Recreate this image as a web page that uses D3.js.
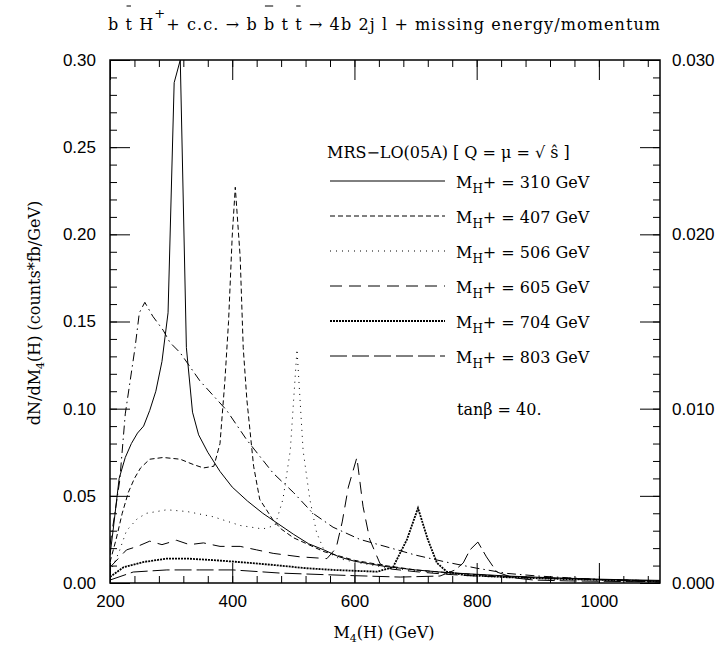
<!DOCTYPE html>
<meta charset="utf-8">
<style>
  body { margin: 0; background: #fff; }
  .serif { font-family: "DejaVu Serif", serif; font-size: 16px; }
</style>
<svg width="718" height="647"></svg>
<script src="https://d3js.org/d3.v7.min.js"></script>
<script>
// tick values
var xMajor = [200, 400, 600, 800, 1000];
var xMinor = d3.range(200, 1101, 40);
var yLeftMajor = [0, 0.05, 0.10, 0.15, 0.20, 0.25, 0.30];
var yLeftMinor = d3.range(0, 0.3001, 0.01);
var yRightMajor = [0, 0.005, 0.010, 0.015, 0.020, 0.025, 0.030];
var yRightMinor = d3.range(0, 0.03001, 0.001);

var legendMasses = ["310", "407", "506", "605", "704", "803"];

// curves: M4(H) in GeV, dN/dM4 in counts*fb/GeV
var m310 = [200, 205, 215, 225, 235, 245, 255, 265, 275, 285, 295, 305, 315, 325, 335, 345, 360, 380, 400, 425, 450, 475, 500, 525, 550, 575, 600, 650, 700, 750, 800, 850, 900, 950, 1000, 1050, 1100];
var v310 = [0.016, 0.030, 0.060, 0.072, 0.080, 0.086, 0.090, 0.099, 0.110, 0.127, 0.155, 0.287, 0.300, 0.135, 0.098, 0.085, 0.075, 0.064, 0.055, 0.047, 0.040, 0.034, 0.028, 0.0225, 0.019, 0.015, 0.0125, 0.0095, 0.0075, 0.006, 0.005, 0.004, 0.0033, 0.0027, 0.0022, 0.0018, 0.0015];

var m407 = [200, 210, 220, 230, 240, 250, 265, 287, 315, 336, 353, 370, 380, 388, 394, 400, 405, 413, 418, 424, 435, 445, 467, 480, 500, 550, 600, 650, 700, 750, 800, 850, 900, 950, 1000, 1050, 1100];
var v407 = [0.012, 0.025, 0.040, 0.052, 0.060, 0.066, 0.071, 0.072, 0.071, 0.068, 0.066, 0.067, 0.080, 0.116, 0.150, 0.199, 0.227, 0.187, 0.135, 0.105, 0.067, 0.048, 0.036, 0.031, 0.026, 0.018, 0.013, 0.010, 0.0075, 0.006, 0.0048, 0.0038, 0.003, 0.0024, 0.0019, 0.0015, 0.0012];

var m506 = [200, 215, 227, 245, 260, 293, 326, 369, 413, 450, 470, 483, 495, 506, 516, 527, 538, 550, 575, 600, 650, 700, 750, 800, 850, 900, 1000, 1100];
var v506 = [0.006, 0.018, 0.030, 0.037, 0.040, 0.042, 0.041, 0.038, 0.033, 0.031, 0.033, 0.048, 0.076, 0.134, 0.076, 0.048, 0.029, 0.019, 0.014, 0.012, 0.009, 0.007, 0.0055, 0.0045, 0.0036, 0.003, 0.002, 0.0012];

var m605 = [200, 227, 245, 265, 285, 309, 330, 353, 380, 413, 440, 467, 511, 555, 570, 580, 590, 604, 614, 625, 642, 660, 700, 750, 800, 900, 1000, 1100];
var v605 = [0.009, 0.019, 0.021, 0.024, 0.022, 0.0245, 0.022, 0.023, 0.021, 0.021, 0.019, 0.017, 0.015, 0.014, 0.020, 0.035, 0.055, 0.072, 0.044, 0.025, 0.011, 0.008, 0.0065, 0.005, 0.004, 0.003, 0.002, 0.0012];

var m704 = [200, 222, 254, 293, 326, 375, 429, 478, 520, 565, 600, 637, 663, 686, 704, 720, 735, 751, 780, 800, 850, 900, 950, 1000, 1050, 1100];
var v704 = [0.0035, 0.009, 0.012, 0.014, 0.014, 0.013, 0.0115, 0.010, 0.0085, 0.0075, 0.007, 0.0065, 0.009, 0.025, 0.043, 0.025, 0.0115, 0.0065, 0.0045, 0.0042, 0.0033, 0.0027, 0.0022, 0.0018, 0.0014, 0.001];

var m803 = [200, 238, 293, 347, 401, 478, 550, 600, 675, 740, 765, 778, 789, 802, 816, 833, 860, 893, 950, 1000, 1100];
var v803 = [0.0017, 0.0063, 0.0075, 0.0075, 0.0075, 0.0057, 0.0048, 0.0042, 0.0034, 0.004, 0.0075, 0.0115, 0.019, 0.0235, 0.015, 0.0063, 0.003, 0.0017, 0.0012, 0.001, 0.0006];

// dash-dot curve (not in the legend)
var mBkg = [200, 208, 216, 225, 233, 241, 248, 257, 270, 287, 298, 315, 347, 391, 424, 467, 500, 532, 565, 609, 650, 700, 750, 800, 850, 900, 950, 1000, 1050, 1100];
var vBkg = [0.022, 0.040, 0.059, 0.097, 0.116, 0.135, 0.155, 0.161, 0.153, 0.145, 0.138, 0.132, 0.116, 0.099, 0.082, 0.063, 0.052, 0.040, 0.032, 0.025, 0.021, 0.016, 0.012, 0.0085, 0.0055, 0.004, 0.003, 0.002, 0.0012, 0.0005];

var svg = d3.select("svg"),
    margin = {top: 60, right: 58, bottom: 64, left: 110},
    width = +svg.attr("width"),
    height = +svg.attr("height");

var x = d3.scaleLinear().domain([200, 1100]).range([margin.left, width - margin.right]);
var y = d3.scaleLinear().domain([0, 0.30]).range([height - margin.bottom, margin.top]);
var y2 = d3.scaleLinear().domain([0, 0.030]).range([height - margin.bottom, margin.top]);

var series = [
  {m: mBkg, v: vBkg, dash: "9,4,1.5,4", w: 1},
  {m: m310, v: v310, dash: null, w: 1},
  {m: m407, v: v407, dash: "5,3", w: 1},
  {m: m506, v: v506, dash: "1,5", w: 1},
  {m: m605, v: v605, dash: "12,7", w: 1},
  {m: m704, v: v704, dash: "2,1", w: 1.8},
  {m: m803, v: v803, dash: "17,5", w: 1}
];

svg.append("clipPath").attr("id", "clip")
  .append("rect")
    .attr("x", x(200)).attr("y", y(0.30))
    .attr("width", x(1100) - x(200)).attr("height", y(0) - y(0.30));

var line = d3.line()
    .x(function(d) { return x(d[0]); })
    .y(function(d) { return y(d[1]); });

svg.append("g")
    .attr("clip-path", "url(#clip)")
  .selectAll("path")
  .data(series)
  .enter().append("path")
    .attr("fill", "none")
    .attr("stroke", "#000")
    .attr("stroke-width", function(d) { return d.w; })
    .attr("stroke-dasharray", function(d) { return d.dash; })
    .attr("d", function(d) { return line(d3.zip(d.m, d.v)); });

// axes: ticks point inward
function styleAxis(g) {
  g.select(".domain").remove();
  g.selectAll("line").attr("stroke", "#000");
  g.selectAll("text").attr("font-family", "'Liberation Sans', Arial, sans-serif").attr("font-size", 17).attr("fill", "#000");
}

var yb = height - margin.bottom, xr = width - margin.right;

svg.append("g").attr("transform", "translate(0," + yb + ")")
  .call(d3.axisBottom(x).tickValues(xMinor).tickSizeInner(-7).tickSizeOuter(0).tickFormat(""))
  .call(styleAxis);
svg.append("g").attr("transform", "translate(0," + yb + ")")
  .call(d3.axisBottom(x).tickValues(xMajor).tickSizeInner(-20).tickSizeOuter(0).tickPadding(12).tickFormat(d3.format("d")))
  .call(styleAxis);
svg.append("g").attr("transform", "translate(0," + margin.top + ")")
  .call(d3.axisTop(x).tickValues(xMinor).tickSizeInner(-7).tickSizeOuter(0).tickFormat(""))
  .call(styleAxis);
svg.append("g").attr("transform", "translate(0," + margin.top + ")")
  .call(d3.axisTop(x).tickValues(xMajor).tickSizeInner(-20).tickSizeOuter(0).tickFormat(""))
  .call(styleAxis);

svg.append("g").attr("transform", "translate(" + margin.left + ",0)")
  .call(d3.axisLeft(y).tickValues(yLeftMinor).tickSizeInner(-7).tickSizeOuter(0).tickFormat(""))
  .call(styleAxis);
svg.append("g").attr("transform", "translate(" + margin.left + ",0)")
  .call(d3.axisLeft(y).tickValues(yLeftMajor).tickSizeInner(-20).tickSizeOuter(0).tickPadding(14).tickFormat(d3.format(".2f")))
  .call(styleAxis);

svg.append("g").attr("transform", "translate(" + xr + ",0)")
  .call(d3.axisRight(y2).tickValues(yRightMinor).tickSizeInner(-7).tickSizeOuter(0).tickFormat(""))
  .call(styleAxis);
svg.append("g").attr("transform", "translate(" + xr + ",0)")
  .call(d3.axisRight(y2).tickValues(yRightMajor).tickSizeInner(-20).tickSizeOuter(0).tickPadding(12)
    .tickFormat(function(d) { return Math.round(d * 1000) % 10 === 0 ? d3.format(".3f")(d) : ""; }))
  .call(styleAxis);

// frame
svg.append("rect")
    .attr("x", margin.left).attr("y", margin.top)
    .attr("width", xr - margin.left).attr("height", yb - margin.top)
    .attr("fill", "none").attr("stroke", "#000").attr("stroke-width", 1.5);

// title with overbars
var title = svg.append("text").attr("class", "serif").attr("x", 108).attr("y", 30)
    .attr("textLength", 552).attr("lengthAdjust", "spacing");
title.append("tspan").text("b t H");
title.append("tspan").attr("dy", -12).attr("font-size", 13).text("+");
title.append("tspan").attr("dy", 12).text("+ c.c. → b b t t → 4b 2j l + missing energy/momentum");
[2, 17, 21].forEach(function(i) {
  var e = title.node().getExtentOfChar(i);
  svg.append("line")
      .attr("x1", e.x + 1).attr("x2", e.x + e.width - 1)
      .attr("y1", 6).attr("y2", 6)
      .attr("stroke", "#000").attr("stroke-width", 1);
});

// axis titles
var xt = svg.append("text").attr("class", "serif").attr("x", 384).attr("y", 638).attr("text-anchor", "middle");
xt.append("tspan").text("M");
xt.append("tspan").attr("dy", 4).attr("font-size", 11).text("4");
xt.append("tspan").attr("dy", -4).text("(H) (GeV)");

var yt = svg.append("text").attr("class", "serif").attr("text-anchor", "middle")
    .attr("font-size", 17)
    .attr("transform", "translate(40,313) rotate(-90)");
yt.append("tspan").text("dN/dM");
yt.append("tspan").attr("dy", 4).attr("font-size", 11).text("4");
yt.append("tspan").attr("dy", -4).text("(H) (counts*fb/GeV)");

// legend
svg.append("text").attr("class", "serif").attr("x", 327).attr("y", 158)
    .text("MRS−LO(05A) [ Q = μ = √ ŝ ]");

var leg = svg.append("g").selectAll("g")
  .data(legendMasses)
  .enter().append("g")
    .attr("transform", function(d, i) { return "translate(0," + (181 + 35 * i) + ")"; });

leg.append("line")
    .attr("x1", 330).attr("x2", 445)
    .attr("stroke", "#000")
    .attr("stroke-width", function(d, i) { return series[i + 1].w; })
    .attr("stroke-dasharray", function(d, i) { return series[i + 1].dash; });

var lt = leg.append("text").attr("class", "serif").attr("x", 456).attr("y", 7);
lt.append("tspan").text("M");
lt.append("tspan").attr("dy", 5).attr("font-size", 12).text("H");
lt.append("tspan").attr("dy", -5).text(function(d) { return "+ = " + d + " GeV"; });

svg.append("text").attr("class", "serif").attr("x", 457).attr("y", 415)
    .text("tanβ = 40.");
</script>
